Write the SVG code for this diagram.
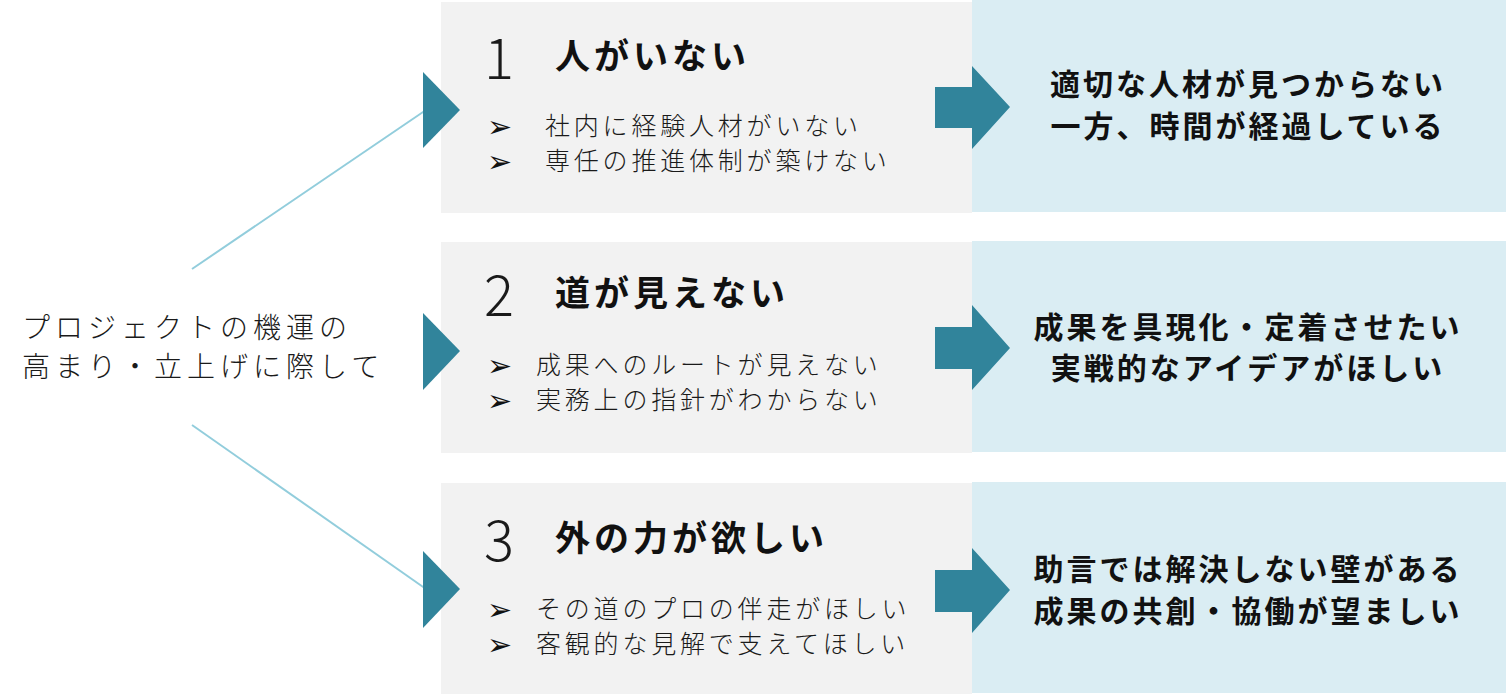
<svg xmlns="http://www.w3.org/2000/svg" width="1506" height="695" viewBox="0 0 1506 695">
<defs>
<style>
.gray{fill:#F2F2F2}
.blue{fill:#DAEDF3}
.arr{fill:#31849B}
.conn{stroke:#92CDDC;stroke-width:2;fill:none}
.lbl{font-family:"Noto Sans CJK JP","Noto Sans",sans-serif;font-weight:300;font-size:28px;letter-spacing:5px;fill:#1a1a1a}
.num{font-family:"Noto Sans CJK JP","Noto Sans",sans-serif;font-weight:300;font-size:56px;fill:#1a1a1a}
.ttl{font-family:"Noto Sans CJK JP","Noto Sans",sans-serif;font-weight:700;font-size:35px;letter-spacing:4px;fill:#111}
.bul{font-family:"Noto Sans CJK JP","Noto Sans",sans-serif;font-weight:300;font-size:25px;letter-spacing:3.8px;fill:#1a1a1a}
.bg{font-family:"DejaVu Sans",sans-serif;font-size:30px;fill:#111}
.res{font-family:"Noto Sans CJK JP","Noto Sans",sans-serif;font-weight:700;font-size:30px;letter-spacing:3px;fill:#111;text-anchor:middle}
</style>
</defs>
<g id="connectors">
<line class="conn" x1="192" y1="269" x2="426" y2="110"/>
<line class="conn" x1="192" y1="425" x2="426" y2="589"/>
</g>
<g id="source">
<text class="lbl" x="22" y="338">プロジェクトの機運の</text>
<text class="lbl" x="22" y="377">高まり・立上げに際して</text>
</g>
<g id="node1">
<rect class="gray" x="441" y="2" width="531" height="211"/>
<rect class="blue" x="972" y="0" width="534" height="212"/>
<polygon class="arr" points="423,72 460,110 423,148"/>
<polygon class="arr" points="935,87 972,87 972,66 1010,107 972,149 972,128 935,128"/>
<text class="num" x="484" y="79">1</text>
<text class="ttl" x="555" y="69">人がいない</text>
<text class="bg" x="487" y="137">➢</text>
<text class="bul" x="545" y="135">社内に経験人材がいない</text>
<text class="bg" x="487" y="172">➢</text>
<text class="bul" x="545" y="170">専任の推進体制が築けない</text>
<text class="res" x="1248" y="95">適切な人材が見つからない</text>
<text class="res" x="1248" y="137">一方、時間が経過している</text>
</g>
<g id="node2">
<rect class="gray" x="441" y="242" width="531" height="211"/>
<rect class="blue" x="972" y="241" width="534" height="211"/>
<polygon class="arr" points="423,313 460,351 423,390"/>
<polygon class="arr" points="935,327 972,327 972,305 1010,348 972,390 972,369 935,369"/>
<text class="num" x="484" y="316">2</text>
<text class="ttl" x="555" y="306">道が見えない</text>
<text class="bg" x="487" y="376">➢</text>
<text class="bul" x="536" y="374">成果へのルートが見えない</text>
<text class="bg" x="487" y="411">➢</text>
<text class="bul" x="536" y="409">実務上の指針がわからない</text>
<text class="res" x="1248" y="338">成果を具現化・定着させたい</text>
<text class="res" x="1248" y="379">実戦的なアイデアがほしい</text>
</g>
<g id="node3">
<rect class="gray" x="441" y="483" width="531" height="211"/>
<rect class="blue" x="972" y="482" width="534" height="211"/>
<polygon class="arr" points="423,551 460,589 423,628"/>
<polygon class="arr" points="935,570 972,570 972,548 1010,590 972,633 972,612 935,612"/>
<text class="num" x="484" y="561">3</text>
<text class="ttl" x="555" y="551">外の力が欲しい</text>
<text class="bg" x="487" y="620">➢</text>
<text class="bul" x="536" y="618">その道のプロの伴走がほしい</text>
<text class="bg" x="487" y="655">➢</text>
<text class="bul" x="536" y="653">客観的な見解で支えてほしい</text>
<text class="res" x="1248" y="580">助言では解決しない壁がある</text>
<text class="res" x="1248" y="622">成果の共創・協働が望ましい</text>
</g>
</svg>
